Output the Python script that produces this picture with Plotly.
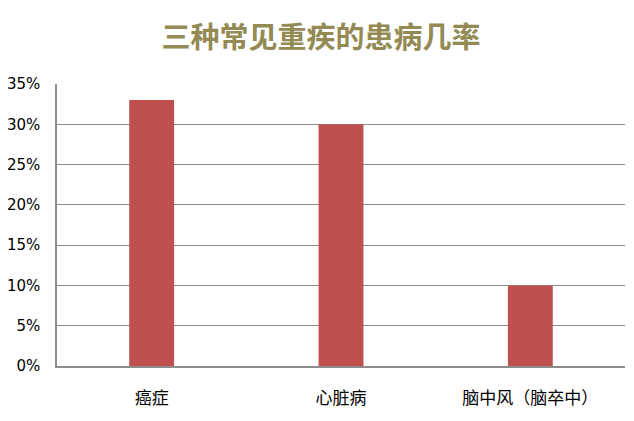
import plotly.graph_objects as go

categories = ["癌症", "心脏病", "脑中风（脑卒中）"]
values = [0.33, 0.30, 0.10]
y_ticks = [0, 0.05, 0.10, 0.15, 0.20, 0.25, 0.30, 0.35]
y_tick_labels = ["0%", "5%", "10%", "15%", "20%", "25%", "30%", "35%"]

fig = go.Figure(go.Bar(
    x=categories, y=values,
    marker=dict(color="#C0504D", line=dict(width=0)),
    width=0.237,
))

W, H = 626, 413
fig.update_layout(
    width=W, height=H,
    margin=dict(l=49, r=9, t=76, b=55, autoexpand=False),
    paper_bgcolor="white", plot_bgcolor="white",
    showlegend=False,
    title=dict(
        text="<b>三种常见重疾的患病几率</b>",
        x=0.5, xanchor="center", y=1 - 30 / H, yanchor="middle",
        font=dict(family="Noto Sans CJK SC", size=29, color="#948A54"),
    ),
    xaxis=dict(
        showline=True, linecolor="#8C8C8C", linewidth=1.5,
        ticks="", showgrid=False, automargin=False,
        tickfont=dict(family="Noto Sans CJK SC", size=17, color="#000000"),
        ticklabelstandoff=16,
    ),
    yaxis=dict(
        range=[0, 0.35], tickvals=y_ticks, ticktext=y_tick_labels,
        showline=True, linecolor="#8C8C8C", linewidth=1.5,
        showgrid=True, gridcolor="#8C8C8C", gridwidth=1.2,
        zeroline=False, ticks="", automargin=False,
        tickfont=dict(family="DejaVu Sans", size=15, color="#000000"),
        ticklabelstandoff=12,
    ),
)

fig.write_html("out.html")
